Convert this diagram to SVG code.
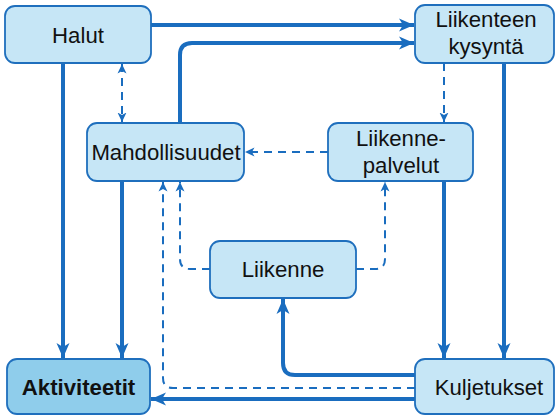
<svg xmlns="http://www.w3.org/2000/svg" width="556" height="416" viewBox="0 0 556 416">
<style>
.box{fill:#c6e6f6;stroke:#1f6fbd;stroke-width:1.8}
.dark{fill:#8fcdeb}
.t{font-family:"Liberation Sans",Arial,sans-serif;font-size:22.2px;fill:#111;text-anchor:middle}
.s{fill:none;stroke:#1a6dbf;stroke-width:4}
.d{fill:none;stroke:#1a6dbf;stroke-width:2;stroke-dasharray:8 6}
</style>
<defs>
<marker id="a" markerUnits="userSpaceOnUse" markerWidth="16" markerHeight="14" viewBox="0 0 16 14" refX="15" refY="7" orient="auto">
<path d="M0,0.5 L15,7 L0,13.5 L4,7 z" fill="#1a6dbf"/>
</marker>
<marker id="b" markerUnits="userSpaceOnUse" markerWidth="10" markerHeight="10" viewBox="0 0 10 10" refX="9.5" refY="5" orient="auto-start-reverse">
<path d="M0,0.5 L9.5,5 L0,9.5 L2.5,5 z" fill="#1a6dbf"/>
</marker>
</defs>
<g id="connectors">
<path class="s" d="M151,25 H414" marker-end="url(#a)"/>
<path class="s" d="M180,123 V55 Q180,43 192,43 H414" marker-end="url(#a)"/>
<path class="d" d="M122,64 V122" marker-start="url(#b)" marker-end="url(#b)"/>
<path class="s" d="M63,63 V358" marker-end="url(#a)"/>
<path class="s" d="M122,181 V358" marker-end="url(#a)"/>
<path class="d" d="M444,63 V122" marker-end="url(#b)"/>
<path class="s" d="M504,63 V358" marker-end="url(#a)"/>
<path class="d" d="M328,152 H245" marker-end="url(#b)"/>
<path class="s" d="M444,181 V358" marker-end="url(#a)"/>
<path class="d" d="M210,269 H190 Q180,269 180,259 V182" marker-end="url(#b)"/>
<path class="d" d="M356,269 H375 Q385,269 385,259 V182" marker-end="url(#b)"/>
<path class="d" d="M415,388 H173 Q163,388 163,378 V182" marker-end="url(#b)"/>
<path class="s" d="M415,375 H295 Q283,375 283,363 V299" marker-end="url(#a)"/>
<path class="s" d="M415,399 H151" marker-end="url(#a)"/>
</g>
<g id="halut"><rect class="box" x="5" y="6" width="146" height="57" rx="10"/><text class="t" x="78" y="43">Halut</text></g>
<g id="liikenteen-kysynta"><rect class="box" x="415" y="5" width="139" height="58" rx="10"/><text class="t" x="486" y="27">Liikenteen</text><text class="t" x="486" y="54">kysyntä</text></g>
<g id="mahdollisuudet"><rect class="box" x="87" y="123" width="157" height="58" rx="10"/><text class="t" x="166" y="160">Mahdollisuudet</text></g>
<g id="liikennepalvelut"><rect class="box" x="328" y="123" width="145" height="58" rx="10"/><text class="t" x="401" y="146">Liikenne-</text><text class="t" x="401" y="173">palvelut</text></g>
<g id="liikenne"><rect class="box" x="210" y="241" width="146" height="57" rx="10"/><text class="t" x="283" y="277">Liikenne</text></g>
<g id="aktiviteetit"><rect class="box dark" x="7" y="359" width="143" height="55" rx="10"/><text class="t" x="78.5" y="395" font-weight="bold">Aktiviteetit</text></g>
<g id="kuljetukset"><rect class="box" x="415" y="359" width="139" height="55" rx="10"/><text class="t" x="489" y="395">Kuljetukset</text></g>
</svg>
